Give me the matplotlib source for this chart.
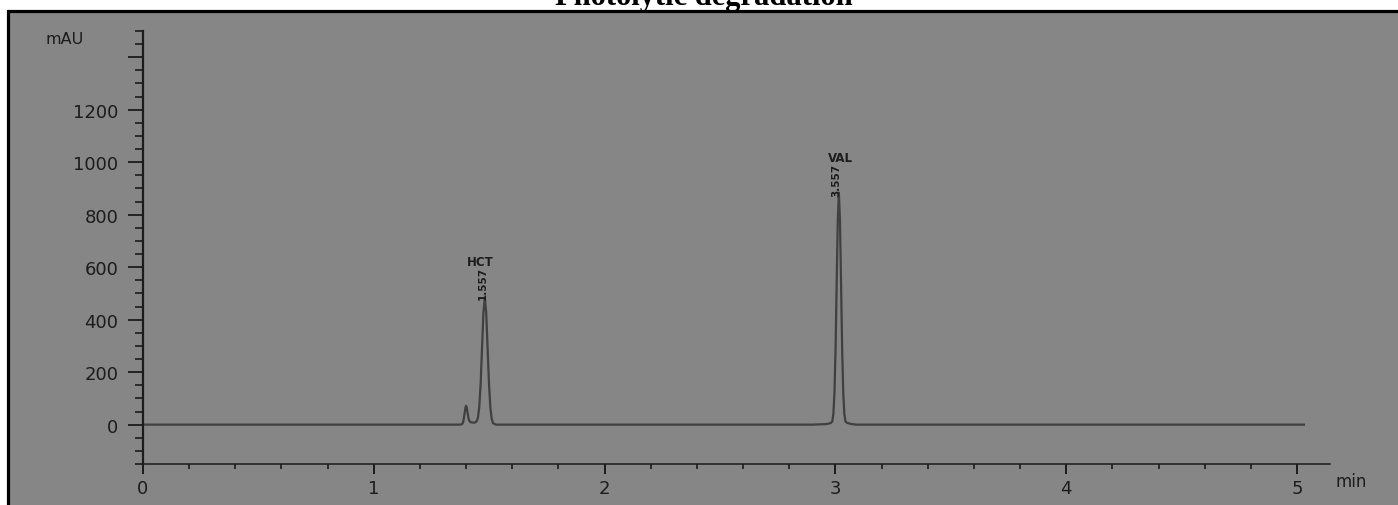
import numpy as np
import matplotlib
matplotlib.use("Agg")
import matplotlib.pyplot as plt
from matplotlib.patches import Rectangle
from matplotlib.ticker import MultipleLocator, FuncFormatter

# --------------------------------------------------------------------------------------------
# Data (time in min, signal in mAU)
# --------------------------------------------------------------------------------------------
time = [0.0, 1.375, 1.384, 1.387, 1.390, 1.3935, 1.397, 1.400, 1.403, 1.4065, 1.410, 1.414,
        1.420, 1.430, 1.438, 1.445, 1.451, 1.457, 1.463, 1.469, 1.475, 1.481, 1.487,
        1.493, 1.499, 1.505, 1.511, 1.517, 1.530,
        2.900, 2.960, 2.980, 2.9865, 2.99125, 2.996, 3.00075, 3.0055, 3.01025, 3.015,
        3.01975, 3.0245, 3.02925, 3.034, 3.03875, 3.0435, 3.050, 3.065, 3.090, 5.030]
signal = [0, 0, 3, 10, 23, 44, 64, 72, 64, 44, 25, 14,
          9, 8, 8, 12, 25, 68, 157, 294, 427, 484, 427,
          294, 157, 66, 21, 5, 0,
          0, 2, 6, 12, 41, 122, 288, 538, 780, 884,
          780, 538, 288, 122, 41, 12, 7, 3, 0, 0]

peak_names = ["HCT", "VAL"]
peak_times = ["1.557", "3.557"]
name_pos = [(1.460, 622), (3.022, 1018)]
rt_pos = [(1.473, 541), (3.004, 935)]

y_labels = [0, 200, 400, 600, 800, 1000, 1200]

# --------------------------------------------------------------------------------------------
# Figure
# --------------------------------------------------------------------------------------------
W, H = 1398, 506
fig = plt.figure(figsize=(W / 100, H / 100), dpi=100)
fig.patch.set_facecolor("white")

gray = "#868686"
ink = "#1c1c1c"

# grey panel with black frame (cut on right and bottom)
frame = Rectangle((7.5 / W, -0.1), 1.2, (H - 11.5) / H + 0.1, transform=fig.transFigure,
                  facecolor=gray, edgecolor="black", linewidth=2.3, zorder=-5)
fig.patches.append(frame)

fig.text(704 / W, 1 - 5 / H, "Photolytic degradation", ha="center", va="baseline",
         fontsize=22, fontweight="bold", family="Liberation Serif", color="black")

ax = fig.add_axes([143 / W, (H - 465) / H, (1330 - 143) / W, (465 - 32) / H])
ax.set_facecolor("none")
ax.set_xlim(0, (1330 - 143) / 230.8)
ax.set_ylim(-150, 1500)

ax.plot(time, signal, color="#404040", linewidth=1.6, solid_joinstyle="round")

for name, rt, (nx, ny), (rx, ry) in zip(peak_names, peak_times, name_pos, rt_pos):
    ax.text(nx, ny, name, ha="center", va="center", fontsize=8.5, color=ink,
            fontweight="bold", family="DejaVu Sans")
    ax.text(rx, ry, rt, ha="center", va="center", fontsize=7.5, color=ink, rotation=90,
            fontweight="bold", family="DejaVu Sans")

for s in ["top", "right"]:
    ax.spines[s].set_visible(False)
ax.spines["left"].set_color(ink)
ax.spines["left"].set_linewidth(1.6)
ax.spines["bottom"].set_color(ink)
ax.spines["bottom"].set_linewidth(1.1)

ax.xaxis.set_major_locator(MultipleLocator(1))
ax.xaxis.set_minor_locator(MultipleLocator(0.2))
ax.yaxis.set_major_locator(MultipleLocator(200))
ax.yaxis.set_minor_locator(MultipleLocator(50))
ax.yaxis.set_major_formatter(FuncFormatter(lambda v, p: f"{v:.0f}" if v in y_labels else ""))
ax.xaxis.set_major_formatter(FuncFormatter(lambda v, p: f"{v:.0f}"))

ax.tick_params(axis="y", which="major", direction="out", length=10.8, width=1.3,
               color=ink, pad=7, labelsize=13, labelcolor=ink)
ax.tick_params(axis="y", which="minor", direction="out", length=5.8, width=1.2, color=ink)
ax.tick_params(axis="x", which="major", direction="out", length=7, width=1.4,
               color=ink, pad=3.6, labelsize=13, labelcolor=ink)
ax.tick_params(axis="x", which="minor", direction="out", length=3.6, width=1.2, color=ink)
for lab in ax.get_xticklabels() + ax.get_yticklabels():
    lab.set_family("DejaVu Sans")

fig.text(65 / W, 1 - 40 / H, "mAU", ha="center", va="center", fontsize=11.5,
         color=ink, family="DejaVu Sans")
fig.text(1351 / W, 1 - 482 / H, "min", ha="center", va="center", fontsize=12,
         color=ink, family="DejaVu Sans")

fig.savefig("out.png", dpi=100, facecolor=fig.get_facecolor())
